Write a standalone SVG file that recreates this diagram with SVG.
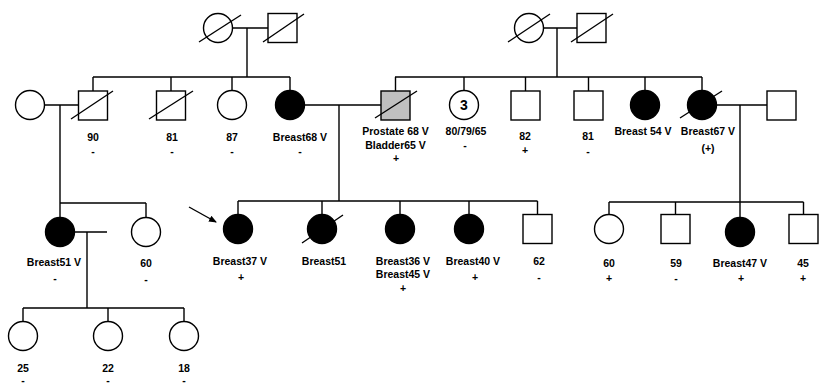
<svg xmlns="http://www.w3.org/2000/svg" width="819" height="386" viewBox="0 0 819 386">
<defs>
<style>
.n{fill:#fff;stroke:#000;stroke-width:1.4}
.a{fill:#000;stroke:#000;stroke-width:1.4}
.g{fill:#c0c0c0;stroke:#000;stroke-width:1.4}
.l{stroke:#000;stroke-width:1.4;fill:none}
.s{stroke:#000;stroke-width:1.4}
text{font-family:"Liberation Sans",Arial,sans-serif;font-weight:bold;font-size:10.5px;text-anchor:middle;fill:#000}
</style>
<marker id="ah" markerWidth="8" markerHeight="8" refX="7" refY="4" orient="auto" markerUnits="userSpaceOnUse">
<path d="M0,0.8 L8,4 L0,7.2 z" fill="#000"/>
</marker>
</defs>
<rect width="819" height="386" fill="#fff"/>
<g id="connectors">
<path class="l" d="M232.5,28H268M247,28V77M93,77H290M93,77V91M171,77V91M232,77V90.5M290,77V90.5"/>
<path class="l" d="M543.5,28H577M557,28V77M395,77H702M395.5,77V91M464,77V90.5M525.5,77V91M588.5,77V91M645,77V90.5M702,77V90.5"/>
<path class="l" d="M44.5,105H78.5M60,105V203M60,203H146M60,203V217.5M146,203V217.5"/>
<path class="l" d="M304.5,105H381M339,105V201M238,201H537.5M238,201V214.5M322,201V214.5M400,201V214.5M469,201V214.5M537.5,201V214.5"/>
<path class="l" d="M716.5,105H767M740,105V202M609,202H803.5M609,202V214.5M675.5,202V214.5M740,202V217.5M803.5,202V214.5"/>
<path class="l" d="M74.5,232H107M87,232V308M23,308H184M23,308V321.5M108,308V321.5M184,308V321.5"/>
<line class="s" x1="189" y1="207" x2="216" y2="222" marker-end="url(#ah)"/>
</g>
<g id="I1"><circle class="n" cx="218" cy="28" r="14.5"/><line class="s" x1="199" y1="42" x2="241" y2="15"/></g>
<g id="I2"><rect class="n" x="268" y="13.5" width="29" height="29"/><line class="s" x1="263" y1="42" x2="304" y2="14"/></g>
<g id="I3"><circle class="n" cx="529" cy="28" r="14.5"/><line class="s" x1="508" y1="42" x2="550" y2="14"/></g>
<g id="I4"><rect class="n" x="577" y="13.5" width="29" height="29"/><line class="s" x1="571" y1="42" x2="613" y2="14"/></g>
<g id="II1"><circle class="n" cx="30" cy="105" r="14.5"/></g>
<g id="II2"><rect class="n" x="78.5" y="91" width="29" height="29"/><line class="s" x1="71" y1="119" x2="113" y2="91"/><text x="93" y="141">90</text><text x="93" y="155">-</text></g>
<g id="II3"><rect class="n" x="156.5" y="91" width="29" height="29"/><line class="s" x1="149" y1="119" x2="193" y2="91"/><text x="172" y="141">81</text><text x="172" y="155">-</text></g>
<g id="II4"><circle class="n" cx="232" cy="105" r="14.5"/><text x="232" y="141">87</text><text x="232" y="155">-</text></g>
<g id="II5"><circle class="a" cx="290" cy="105" r="14.5"/><text x="300" y="141">Breast68 V</text><text x="300" y="155">-</text></g>
<g id="II6"><rect class="g" x="381" y="91" width="29" height="29"/><line class="s" x1="375" y1="118" x2="417" y2="91"/><text x="395.5" y="135">Prostate 68 V</text><text x="395.5" y="149">Bladder65 V</text><text x="396" y="162">+</text></g>
<g id="II7"><circle class="n" cx="464" cy="105" r="14.5"/><text x="464" y="110" style="font-size:14px">3</text><text x="466" y="135">80/79/65</text><text x="465" y="149">-</text></g>
<g id="II8"><rect class="n" x="511" y="91" width="29" height="29"/><text x="525" y="140">82</text><text x="525" y="154">+</text></g>
<g id="II9"><rect class="n" x="574" y="91" width="29" height="29"/><text x="588" y="140">81</text><text x="588" y="155">-</text></g>
<g id="II10"><circle class="a" cx="645" cy="105" r="14.5"/><text x="643" y="135">Breast 54 V</text></g>
<g id="II11"><circle class="a" cx="702" cy="105" r="14.5"/><line class="s" x1="680" y1="118" x2="722" y2="91"/><text x="708" y="135">Breast67 V</text><text x="708" y="152">(+)</text></g>
<g id="II12"><rect class="n" x="767" y="91" width="29" height="29"/></g>
<g id="III1"><circle class="a" cx="60" cy="232" r="14.5"/><text x="54" y="266">Breast51 V</text><text x="55" y="282">-</text></g>
<g id="III2"><circle class="n" cx="146" cy="232" r="14.5"/><text x="146" y="267">60</text><text x="146" y="283">-</text></g>
<g id="III3"><circle class="a" cx="238" cy="229" r="14.5"/><text x="240" y="265">Breast37 V</text><text x="241" y="281">+</text></g>
<g id="III4"><circle class="a" cx="322" cy="229" r="14.5"/><line class="s" x1="302" y1="243" x2="343" y2="215"/><text x="324" y="265">Breast51</text></g>
<g id="III5"><circle class="a" cx="400" cy="229" r="14.5"/><text x="403" y="265">Breast36 V</text><text x="403" y="278">Breast45 V</text><text x="403" y="292">+</text></g>
<g id="III6"><circle class="a" cx="469" cy="229" r="14.5"/><text x="473" y="265">Breast40 V</text><text x="475" y="281">+</text></g>
<g id="III7"><rect class="n" x="523" y="214.5" width="29" height="29"/><text x="539" y="265">62</text><text x="539" y="281">-</text></g>
<g id="III8"><circle class="n" cx="609" cy="229" r="14.5"/><text x="609" y="267">60</text><text x="609" y="282">+</text></g>
<g id="III9"><rect class="n" x="661" y="214.5" width="29" height="29"/><text x="676" y="267">59</text><text x="676" y="282">-</text></g>
<g id="III10"><circle class="a" cx="740" cy="232" r="14.5"/><text x="740" y="267">Breast47 V</text><text x="741" y="282">+</text></g>
<g id="III11"><rect class="n" x="789" y="214.5" width="29" height="29"/><text x="803" y="267">45</text><text x="803" y="282">+</text></g>
<g id="IV1"><circle class="n" cx="23" cy="336" r="14.5"/><text x="23" y="372">25</text><text x="23" y="384">-</text></g>
<g id="IV2"><circle class="n" cx="108" cy="336" r="14.5"/><text x="108" y="372">22</text><text x="108" y="384">-</text></g>
<g id="IV3"><circle class="n" cx="184" cy="336" r="14.5"/><text x="184" y="372">18</text><text x="184" y="384">-</text></g>
</svg>
